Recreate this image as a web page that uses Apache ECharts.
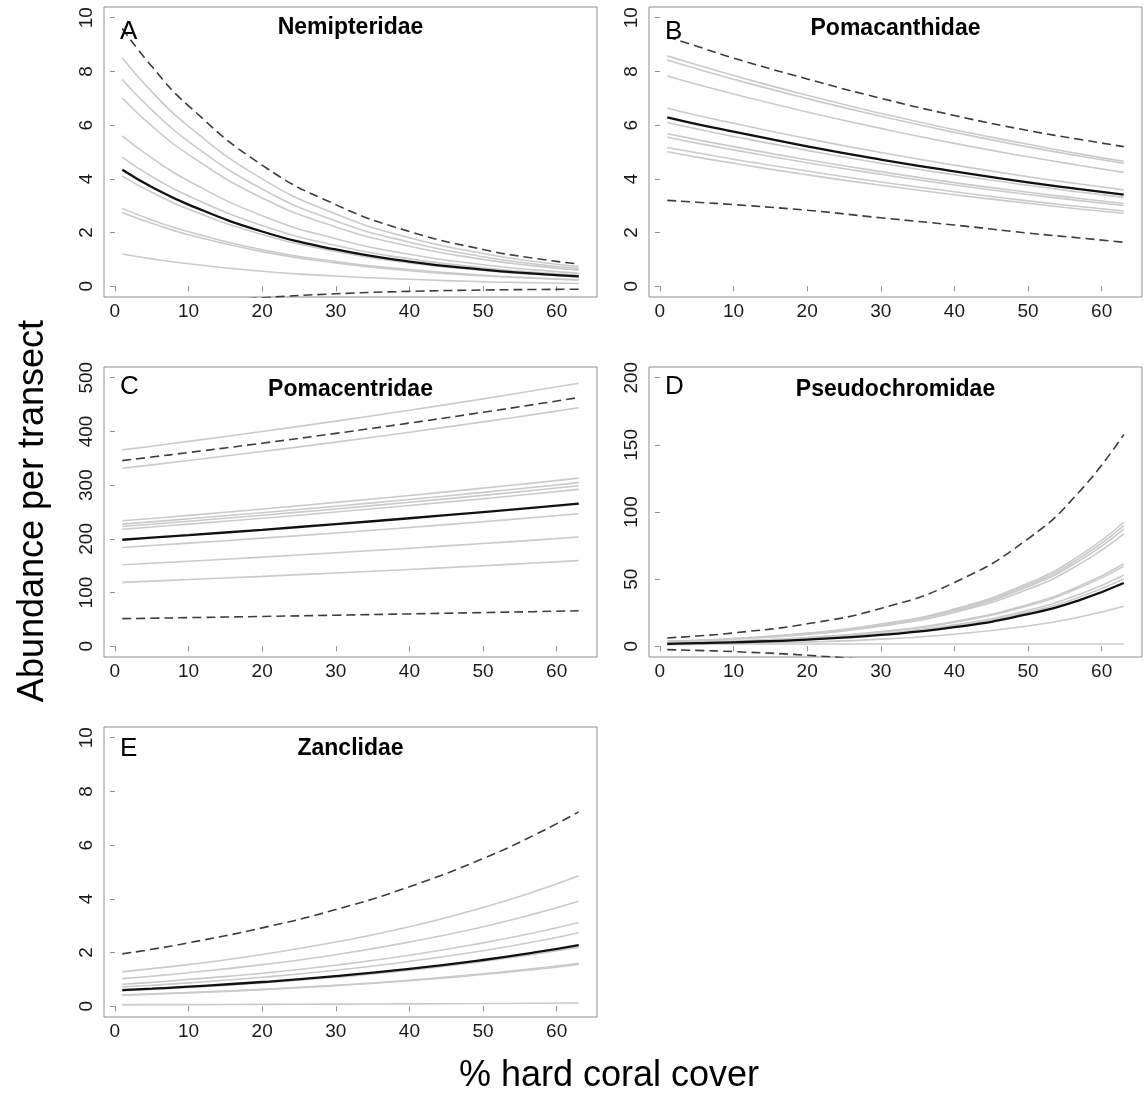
<!DOCTYPE html>
<html>
<head>
<meta charset="utf-8">
<script src="https://cdn.jsdelivr.net/npm/echarts@6/dist/echarts.min.js"></script>
<style>
  html, body { margin: 0; padding: 0; background: #fff; }
  #chart { width: 1144px; height: 1095px; }
</style>
</head>
<body>
<div id="chart"></div>
<script>
const xs = [1, 5, 10, 20, 30, 40, 50, 57, 63];

// A  Nemipteridae
const nemGrey = [
  [8.5, 7.25, 5.95, 4.00, 2.69, 1.81, 1.22, 0.92, 0.73],
  [7.7, 6.57, 5.39, 3.62, 2.43, 1.64, 1.10, 0.83, 0.66],
  [7.0, 5.97, 4.90, 3.29, 2.21, 1.49, 1.00, 0.76, 0.60],
  [5.6, 4.78, 3.92, 2.63, 1.77, 1.19, 0.80, 0.61, 0.48],
  [4.8, 4.09, 3.36, 2.26, 1.52, 1.02, 0.69, 0.52, 0.41],
  [4.1, 3.50, 2.87, 1.93, 1.30, 0.87, 0.59, 0.44, 0.35],
  [2.9, 2.47, 2.03, 1.36, 0.92, 0.62, 0.41, 0.31, 0.25],
  [2.75, 2.35, 1.92, 1.29, 0.87, 0.58, 0.39, 0.30, 0.23],
  [1.2, 1.02, 0.84, 0.56, 0.38, 0.26, 0.17, 0.13, 0.10]
];
const nemMean = [4.34, 3.70, 3.04, 2.04, 1.37, 0.92, 0.62, 0.47, 0.37];
const nemUpper = [9.6, 8.19, 6.72, 4.51, 3.04, 2.04, 1.37, 1.04, 0.83];
const nemLower = [-0.92, -0.79, -0.64, -0.43, -0.28, -0.19, -0.14, -0.12, -0.11];

// B  Pomacanthidae
const pomaGrey = [
  [8.58, 8.25, 7.85, 7.11, 6.44, 5.83, 5.29, 4.93, 4.65],
  [8.43, 8.10, 7.71, 6.99, 6.33, 5.73, 5.19, 4.85, 4.57],
  [7.83, 7.52, 7.16, 6.49, 5.88, 5.32, 4.82, 4.50, 4.24],
  [6.63, 6.37, 6.07, 5.50, 4.98, 4.51, 4.08, 3.81, 3.59],
  [6.10, 5.86, 5.58, 5.06, 4.58, 4.15, 3.76, 3.51, 3.31],
  [5.68, 5.46, 5.20, 4.71, 4.27, 3.86, 3.50, 3.27, 3.08],
  [5.55, 5.33, 5.08, 4.60, 4.17, 3.77, 3.42, 3.19, 3.01],
  [5.17, 4.97, 4.73, 4.29, 3.88, 3.52, 3.18, 2.97, 2.80],
  [5.01, 4.81, 4.58, 4.15, 3.76, 3.41, 3.09, 2.88, 2.72]
];
const pomaMean = [6.29, 6.04, 5.76, 5.21, 4.72, 4.28, 3.87, 3.62, 3.41];
const pomaUpper = [9.29, 8.94, 8.50, 7.72, 7.00, 6.36, 5.80, 5.47, 5.20];
const pomaLower = [3.20, 3.13, 3.04, 2.83, 2.55, 2.28, 1.98, 1.80, 1.64];

// C  Pomacentridae
const pomcGrey = [
  [365.6, 372.5, 381.5, 399.9, 419.2, 439.5, 460.7, 476.2, 489.9],
  [331.5, 337.8, 345.9, 362.6, 380.1, 398.5, 417.8, 431.8, 444.2],
  [233.6, 238.0, 243.7, 255.5, 267.9, 280.8, 294.4, 304.3, 313.0],
  [227.4, 231.7, 237.3, 248.7, 260.8, 273.4, 286.6, 296.2, 304.7],
  [223.0, 227.2, 232.7, 243.9, 255.7, 268.1, 281.0, 290.5, 298.8],
  [218.0, 222.1, 227.5, 238.4, 250.0, 262.1, 274.7, 283.9, 292.1],
  [184.0, 187.5, 192.0, 201.3, 211.0, 221.2, 231.9, 239.7, 246.6],
  [151.8, 154.7, 158.4, 166.0, 174.1, 182.5, 191.3, 197.7, 203.4],
  [119.0, 121.3, 124.2, 130.2, 136.5, 143.0, 150.0, 155.0, 159.5]
];
const pomcMean = [198.3, 202.1, 206.9, 216.9, 227.4, 238.4, 249.9, 258.3, 265.7];
const pomcUpper = [345.7, 352.3, 360.7, 378.1, 396.4, 415.6, 435.6, 450.3, 463.2];
const pomcLower = [51.4, 52.2, 53.3, 55.5, 57.8, 60.2, 62.7, 64.5, 66.1];

// D  Pseudochromidae
const pseuGrey = [
  [3.63, 4.47, 5.81, 9.79, 16.49, 27.80, 46.86, 67.52, 92.35],
  [3.53, 4.35, 5.65, 9.52, 16.04, 27.03, 45.57, 65.66, 89.80],
  [3.43, 4.23, 5.49, 9.25, 15.59, 26.27, 44.28, 63.80, 87.26],
  [3.29, 4.05, 5.26, 8.87, 14.95, 25.19, 42.47, 61.19, 83.70],
  [2.41, 2.97, 3.86, 6.50, 10.95, 18.46, 31.11, 44.83, 61.31],
  [2.34, 2.88, 3.74, 6.31, 10.63, 17.92, 30.21, 43.52, 59.53],
  [2.08, 2.56, 3.33, 5.61, 9.45, 15.93, 26.85, 38.69, 52.92],
  [1.97, 2.43, 3.15, 5.31, 8.95, 15.09, 25.43, 36.64, 50.12],
  [1.17, 1.44, 1.87, 3.15, 5.32, 8.96, 15.10, 21.76, 29.76],
  [1.7, 1.7, 1.7, 1.7, 1.7, 1.7, 1.7, 1.7, 1.7]
];
const pseuMean = [1.85, 2.28, 2.96, 4.99, 8.41, 14.17, 23.88, 34.41, 47.07];
const pseuUpper = [6.2, 7.64, 9.92, 16.72, 28.17, 47.48, 80.04, 115.3, 157.7];
const pseuLower = [-2.5, -3.08, -4.00, -6.74, -11.35, -19.14, -32.28, -46.5, -63.6];

// E  Zanclidae
const zancGrey = [
  [1.28, 1.40, 1.55, 1.93, 2.39, 2.96, 3.68, 4.27, 4.86],
  [1.03, 1.12, 1.25, 1.55, 1.92, 2.39, 2.96, 3.44, 3.91],
  [0.82, 0.89, 1.00, 1.23, 1.53, 1.90, 2.36, 2.74, 3.12],
  [0.72, 0.78, 0.87, 1.08, 1.34, 1.67, 2.07, 2.40, 2.74],
  [0.58, 0.63, 0.70, 0.87, 1.08, 1.34, 1.67, 1.94, 2.20],
  [0.42, 0.46, 0.51, 0.63, 0.78, 0.97, 1.21, 1.40, 1.60],
  [0.41, 0.45, 0.50, 0.62, 0.77, 0.95, 1.18, 1.37, 1.56],
  [0.05, 0.06, 0.06, 0.07, 0.08, 0.09, 0.10, 0.11, 0.12]
];
const zancMean = [0.60, 0.654, 0.728, 0.903, 1.120, 1.390, 1.723, 2.003, 2.280];
const zancUpper = [1.95, 2.12, 2.36, 2.92, 3.60, 4.45, 5.50, 6.38, 7.24];
const zancLower = [-0.75, -0.81, -0.90, -1.11, -1.36, -1.67, -2.05, -2.37, -2.68];

// tick labels
const xTicks = [0, 10, 20, 30, 40, 50, 60];
const yTicksSmall = [0, 2, 4, 6, 8, 10];
const yTicksC = [0, 100, 200, 300, 400, 500];
const yTicksD = [0, 50, 100, 150, 200];

const panels = [
  { letter: "A", name: "Nemipteridae", grey: nemGrey, mean: nemMean, up: nemUpper, lo: nemLower,
    ymin: -0.4, ymax: 10.4, yticks: yTicksSmall, left: 104, top: 7, letterDy: 25, titleDy: 21 },
  { letter: "B", name: "Pomacanthidae", grey: pomaGrey, mean: pomaMean, up: pomaUpper, lo: pomaLower,
    ymin: -0.4, ymax: 10.4, yticks: yTicksSmall, left: 649, top: 7, letterDy: 25, titleDy: 22 },
  { letter: "C", name: "Pomacentridae", grey: pomcGrey, mean: pomcMean, up: pomcUpper, lo: pomcLower,
    ymin: -20, ymax: 520, yticks: yTicksC, left: 104, top: 367, letterDy: 20, titleDy: 23 },
  { letter: "D", name: "Pseudochromidae", grey: pseuGrey, mean: pseuMean, up: pseuUpper, lo: pseuLower,
    ymin: -8, ymax: 208, yticks: yTicksD, left: 649, top: 367, letterDy: 20, titleDy: 23 },
  { letter: "E", name: "Zanclidae", grey: zancGrey, mean: zancMean, up: zancUpper, lo: zancLower,
    ymin: -0.4, ymax: 10.4, yticks: yTicksSmall, left: 104, top: 727, letterDy: 22, titleDy: 22 }
];

const W = 493, H = 290;
const FONT = "'Liberation Sans', Arial, sans-serif";
const frame = "#8f8f8f";

const pts = (vals) => xs.map((x, i) => [x, vals[i]]);

const grid = [], xAxis = [], yAxis = [], series = [], graphic = [];

panels.forEach((p, i) => {
  grid.push({ left: p.left, top: p.top, width: W, height: H, show: true,
    borderColor: frame, borderWidth: 1, backgroundColor: "transparent" });
  xAxis.push({
    type: "value", gridIndex: i, min: -1.48, max: 65.48,
    axisLine: { show: false }, splitLine: { show: false },
    axisTick: { show: true, customValues: xTicks, length: 5, lineStyle: { color: frame } },
    axisLabel: { customValues: xTicks, fontSize: 19, color: "#1a1a1a", margin: 5, fontFamily: FONT }
  });
  yAxis.push({
    type: "value", gridIndex: i, min: p.ymin, max: p.ymax,
    axisLine: { show: false }, splitLine: { show: false },
    axisTick: { show: true, customValues: p.yticks, length: 5, lineStyle: { color: frame } },
    axisLabel: { customValues: p.yticks, fontSize: 19, color: "#1a1a1a", margin: 8, rotate: 90, fontFamily: FONT }
  });

  const base = { type: "line", xAxisIndex: i, yAxisIndex: i, symbol: "none", smooth: 0.5,
    silent: true, animation: false, clip: true };
  p.grey.forEach((g) => series.push({ ...base, data: pts(g), z: 2,
    lineStyle: { color: "#cacaca", width: 1.6 } }));
  series.push({ ...base, data: pts(p.mean), z: 3, lineStyle: { color: "#111", width: 2.3 } });
  [p.up, p.lo].forEach((d) => series.push({ ...base, data: pts(d), z: 4,
    lineStyle: { color: "#3c3c3c", width: 1.6, type: [9, 5] } }));

  graphic.push({ type: "text", x: p.left + 16, y: p.top + p.letterDy, z: 10,
    style: { text: p.letter, font: "26px " + FONT, fill: "#000",
      textAlign: "left", textVerticalAlign: "middle", align: "left", verticalAlign: "middle" } });
  graphic.push({ type: "text", x: p.left + W / 2, y: p.top + p.titleDy, z: 10,
    style: { text: p.name, font: "bold 23px " + FONT, fill: "#000",
      textAlign: "center", textVerticalAlign: "middle", align: "center", verticalAlign: "middle" } });
});

graphic.push({ type: "text", x: 33, y: 511, rotation: Math.PI / 2, z: 10,
  style: { text: "Abundance per transect", font: "36px " + FONT, fill: "#000",
    textAlign: "center", textVerticalAlign: "middle", align: "center", verticalAlign: "middle" } });
graphic.push({ type: "text", x: 609, y: 1076, z: 10,
  style: { text: "% hard coral cover", font: "36px " + FONT, fill: "#000",
    textAlign: "center", textVerticalAlign: "middle", align: "center", verticalAlign: "middle" } });

const chart = echarts.init(document.getElementById("chart"), null, { renderer: "canvas" });
chart.setOption({
  backgroundColor: "#fff",
  animation: false,
  grid, xAxis, yAxis, series, graphic
});
</script>
</body>
</html>
